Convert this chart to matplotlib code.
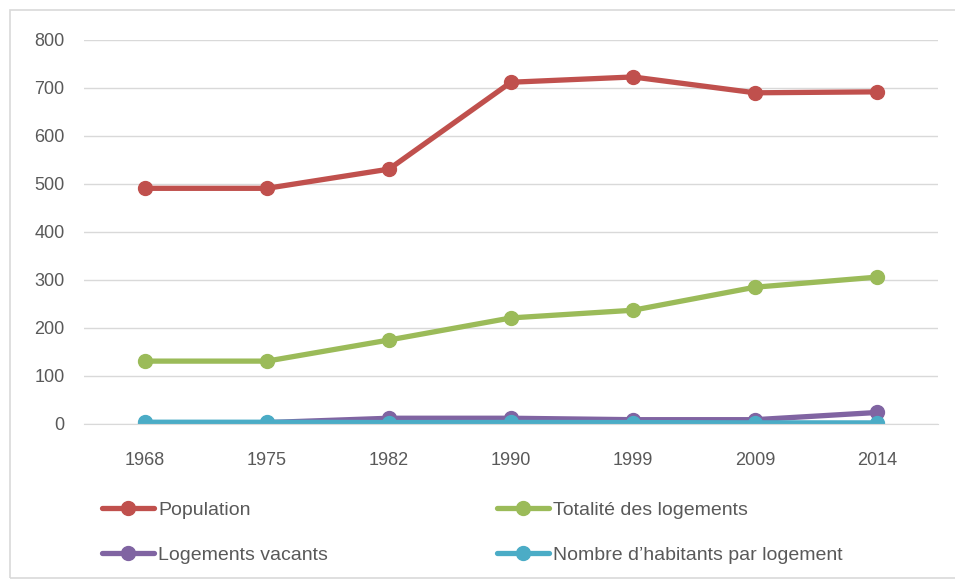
import matplotlib.pyplot as plt
from matplotlib.patches import Rectangle

plt.rcParams['font.family'] = ['Liberation Sans Narrow', 'Liberation Sans', 'DejaVu Sans']

# donnees
annees = ['1968', '1975', '1982', '1990', '1999', '2009', '2014']
population = [491, 491, 531, 712, 723, 690, 692]
logements = [131, 131, 175, 221, 237, 285, 306]
vacants = [0, 3, 12, 12, 9, 9, 24]
hab_par_logement = [3.7, 3.7, 3.0, 3.2, 3.0, 2.4, 2.3]

series = [
    ("Population", population, '#C0504D'),
    ("Totalité des logements", logements, '#9BBB59'),
    ("Logements vacants", vacants, '#8064A2'),
    ("Nombre d\u2019habitants par logement", hab_par_logement, '#4BACC6'),
]

fig = plt.figure(figsize=(9.55, 5.81), dpi=100)
fig.patches.append(Rectangle((10 / 955, 3 / 581), 1.0, 568 / 581, transform=fig.transFigure,
                             fill=False, edgecolor='#D9D9D9', linewidth=1.2))
ax = fig.add_axes([84 / 955, 1 - 424 / 581, (938 - 84) / 955, (424 - 40) / 581])

x = list(range(len(annees)))
handles = []
for name, vals, col in series:
    h, = ax.plot(x, vals, color=col, linewidth=3.8, marker='o', markersize=10,
                 solid_capstyle='round', label=name)
    handles.append(h)

ax.set_xlim(-0.5, len(annees) - 0.5)
ax.set_ylim(0, 800)
ax.set_yticks(range(0, 801, 100))
ax.set_xticks(x)
ax.set_xticklabels(annees)
ax.yaxis.grid(True, color='#D9D9D9', linewidth=1)
ax.set_axisbelow(True)
for s in ['top', 'right', 'left']:
    ax.spines[s].set_visible(False)
ax.spines['bottom'].set_color('#D9D9D9')
ax.tick_params(length=0, labelsize=13, colors='#595959')
ax.tick_params(axis='y', pad=14)
ax.tick_params(axis='x', pad=20)

# ordre ligne par ligne comme dans excel
ordre = [handles[0], handles[2], handles[1], handles[3]]
leg = fig.legend(handles=ordre, ncol=2, loc='upper left', bbox_to_anchor=(84 / 955, 1 - 484 / 581),
                 frameon=False, fontsize=14, handlelength=2.7, handletextpad=0.2,
                 columnspacing=8.7, labelspacing=1.4, labelcolor='#595959')

fig.savefig('out.png', dpi=100)
